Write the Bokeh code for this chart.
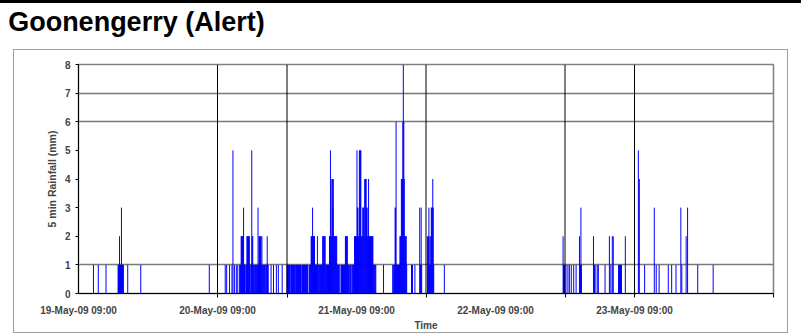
import pandas as pd
from bokeh.plotting import figure
from bokeh.models import Range1d, FixedTicker, ColumnDataSource, InlineStyleSheet, LinearAxis
from bokeh.embed import file_html
from bokeh.resources import INLINE

# ---------------- data ----------------
title_text = "Goonengerry (Alert)"
y_title = "5 min Rainfall (mm)"
x_title = "Time"

start_time = "2009-05-19 09:00"
end_time = "2009-05-24 09:00"

tick_times = ["2009-05-19 09:00", "2009-05-20 09:00", "2009-05-21 09:00",
              "2009-05-22 09:00", "2009-05-23 09:00"]
tick_labels = ["19-May-09 09:00", "20-May-09 09:00", "21-May-09 09:00",
               "22-May-09 09:00", "23-May-09 09:00"]

marker_times = ["2009-05-20 09:00", "2009-05-20 21:00", "2009-05-21 21:00",
                "2009-05-22 21:00", "2009-05-23 09:00"]

y_ticks = [0, 1, 2, 3, 4, 5, 6, 7, 8]
y_grid_values = [1, 6, 7]

# runs of consecutive 5-minute rainfall totals (mm), each starting at run_starts[i]
run_starts = [
    "2009-05-19 11:35", "2009-05-19 12:25", "2009-05-19 13:45", "2009-05-19 15:50",
    "2009-05-19 17:30", "2009-05-19 19:45", "2009-05-20 07:35", "2009-05-20 10:20",
    "2009-05-20 11:05", "2009-05-20 12:15", "2009-05-20 12:50", "2009-05-20 18:15",
    "2009-05-20 18:40", "2009-05-20 19:10", "2009-05-20 19:30", "2009-05-20 20:10",
    "2009-05-20 21:00", "2009-05-21 13:40", "2009-05-21 15:15", "2009-05-21 18:30",
    "2009-05-21 19:55", "2009-05-21 21:15", "2009-05-22 00:10", "2009-05-22 20:40",
    "2009-05-22 21:10", "2009-05-22 21:30", "2009-05-22 21:45", "2009-05-22 22:05",
    "2009-05-22 22:30", "2009-05-22 22:55", "2009-05-22 23:30", "2009-05-23 01:55",
    "2009-05-23 03:55", "2009-05-23 04:40", "2009-05-23 06:15", "2009-05-23 07:25",
    "2009-05-23 09:40", "2009-05-23 10:45", "2009-05-23 12:25", "2009-05-23 14:50",
    "2009-05-23 15:25", "2009-05-23 16:10", "2009-05-23 17:00", "2009-05-23 17:55",
    "2009-05-23 19:55", "2009-05-23 22:35",
]
run_values = [
    [1], [1], [1], [1, 1, 1, 2, 1, 1, 1, 3, 1, 1, 1, 1],
    [1], [1], [1], [1, 0, 0, 1],
    [1, 0, 0, 0, 0, 1, 0, 5, 0, 0, 1], [1, 0, 0, 1],
    [1, 1, 1, 2, 2, 2, 2, 2, 3, 1, 1, 1,
     0, 1, 1, 2, 2, 2, 2, 2, 2, 1, 0, 1,
     1, 5, 2, 2, 1, 1, 0, 1, 1, 1, 0, 1,
     1, 1, 3, 1, 2, 2, 1, 2, 2, 1, 2, 1,
     0, 1, 1, 1, 1, 0, 1, 1, 1, 2, 1, 1],
    [1],
    [1], [1], [1], [1],
    [1, 1, 1, 1, 1, 1, 1, 0, 1, 1, 1, 1,
     1, 1, 1, 1, 1, 0, 1, 1, 1, 1, 1, 1,
     1, 1, 1, 0, 1, 1, 0, 1, 1, 1, 1, 1,
     1, 1, 1, 1, 1, 1, 1, 1, 0, 0, 1, 1,
     1, 1, 2, 2, 2, 3, 2, 2, 2, 2, 1, 1,
     1, 1, 1, 2, 1, 1, 0, 1, 1, 1, 1, 1,
     1, 1, 2, 2, 2, 2, 2, 2, 1, 0, 1, 1,
     1, 1, 1, 1, 2, 2, 5, 2, 2, 4, 4, 3,
     4, 2, 2, 2, 2, 2, 2, 2, 1, 1, 1, 1,
     1, 0, 1, 0, 0, 1, 0, 1, 0, 1, 1, 1,
     1, 2, 2, 2, 2, 2, 1, 1, 1, 1, 0, 1,
     1, 1, 0, 0, 1, 1, 1, 1, 2, 2, 2, 2,
     2, 5, 3, 3, 2, 2, 5, 5, 5, 5, 2, 2,
     2, 3, 3, 3, 2, 4, 4, 4, 4, 3, 3, 2,
     2, 4, 2, 2, 2, 2, 2, 2, 2, 2, 2, 1,
     1, 1, 0, 1, 1],
    [1],
    [1, 0, 1, 1, 1, 3, 3, 6, 1, 1, 1, 0,
     1, 1, 1, 2, 2, 2, 4, 4, 4, 6, 8, 6,
     4, 2, 2, 2, 2, 1],
    [1, 0, 1, 0, 0, 0, 0, 1],
    [3, 1, 1, 3, 1],
    [2, 1, 2, 3, 1, 2, 1, 2, 3, 3, 3, 4, 3, 1],
    [1], [2, 1, 1, 1],
    [1], [1], [1], [1],
    [1], [1], [2, 1, 1, 3, 1], [2, 0, 1, 0, 0, 1, 0, 0, 0, 1, 1],
    [1], [2, 0, 0, 1, 0, 0, 2, 0, 2], [1, 1, 1, 1, 1, 0, 1], [2],
    [5, 0, 4], [1], [3, 0, 0, 0, 1, 0, 0, 0, 0, 0, 1], [1],
    [1], [1], [3, 0, 1], [2, 0, 0, 3],
    [1], [1],
]

# ---------------- build ----------------
t0 = pd.Timestamp(start_time)


def hours(s):
    return (pd.Timestamp(s) - t0).total_seconds() / 3600.0


xs, ys = [], []
for s, vals in zip(run_starts, run_values):
    h = hours(s)
    for i, v in enumerate(vals):
        if v > 0:
            xs.append(h + i * 5.0 / 60.0)
            ys.append(v)
src = ColumnDataSource(dict(x=xs, y=ys))

x_end = hours(end_time)
mk = [hours(m) for m in marker_times]
mk_src = ColumnDataSource(dict(x=mk, y0=[y_ticks[0]] * len(mk), y1=[y_ticks[-1]] * len(mk)))

FONT = "Liberation Sans"

frame_css = InlineStyleSheet(css="""
:host { position: relative; }
:host::before { content: ""; position: absolute; left: 0px; top: 0px; width: 100%; height: 3px;
                background: #000; pointer-events: none; z-index: 5; }
:host::after { content: ""; position: absolute; left: 13px; top: 49px; width: 775px; height: 284px;
               border: 1px solid #a0a0a0; box-sizing: border-box; pointer-events: none; z-index: 5; }
""")

p = figure(width=801, height=334, output_backend="svg", toolbar_location=None,
           x_range=Range1d(0, x_end), y_range=Range1d(y_ticks[0], y_ticks[-1]),
           min_border_left=78, min_border_right=28, min_border_top=64, min_border_bottom=41,
           stylesheets=[frame_css])
p.background_fill_color = "white"
p.border_fill_color = "white"
p.outline_line_color = "#808080"
p.outline_line_width = 1.5

xaxis = p.below[0]
yaxis = p.left[0]

# chart title, drawn as the single label of a bare axis above the frame
title_pos = 10
title_axis = LinearAxis(ticker=FixedTicker(ticks=[title_pos]),
                        major_label_overrides={title_pos: title_text},
                        axis_line_color=None, major_tick_line_color=None, minor_tick_line_color=None,
                        major_tick_out=0, major_tick_in=0, minor_tick_out=0, minor_tick_in=0,
                        major_label_standoff=28, major_label_text_font=FONT,
                        major_label_text_font_size="27px", major_label_text_font_style="bold",
                        major_label_text_color="black")
p.add_layout(title_axis, "above")

p.xgrid.visible = False
p.ygrid.ticker = FixedTicker(ticks=y_grid_values)
p.ygrid.grid_line_color = "#7a7a7a"
p.ygrid.grid_line_width = 1.5

# y axis
yaxis.ticker = FixedTicker(ticks=y_ticks)
yaxis.axis_label = y_title
yaxis.axis_label_text_font = FONT
yaxis.axis_label_text_font_size = "10.5px"
yaxis.axis_label_text_font_style = "bold"
yaxis.axis_label_standoff = 4
yaxis.major_label_text_font = FONT
yaxis.major_label_text_font_size = "10px"
yaxis.major_label_text_font_style = "bold"
yaxis.major_label_standoff = 5
yaxis.major_tick_out = 3
yaxis.major_tick_in = 0
yaxis.minor_tick_out = 0
yaxis.minor_tick_in = 0
yaxis.axis_line_color = "black"
yaxis.major_tick_line_color = "black"

# x axis (the axis title sits on a second line under the middle of the axis)
tick_h = [int(round(hours(t))) for t in tick_times]
mid_h = int(round(x_end / 2))
labels = {h: lab for h, lab in zip(tick_h, tick_labels)}
labels[mid_h] = "\n" + x_title
xaxis.ticker = FixedTicker(ticks=sorted(labels.keys()),
                           minor_ticks=[int(round(m)) for m in mk] + [int(round(x_end))])
xaxis.major_label_overrides = labels
xaxis.major_label_text_font = FONT
xaxis.major_label_text_font_size = "10px"
xaxis.major_label_text_font_style = "bold"
xaxis.major_label_text_line_height = 1.4
xaxis.major_label_standoff = 7
xaxis.major_tick_out = 0
xaxis.major_tick_in = 0
xaxis.minor_tick_out = 4
xaxis.minor_tick_in = 0
xaxis.minor_tick_line_color = "black"
xaxis.axis_line_color = "black"

# bars
p.segment(x0="x", y0=0, x1="x", y1="y", source=src, line_color="#0000FF", line_width=1)
# marker lines
p.segment(x0="x", y0="y0", x1="x", y1="y1", source=mk_src, line_color="black", line_width=1)

open("out.html", "w").write(file_html(p, INLINE))
